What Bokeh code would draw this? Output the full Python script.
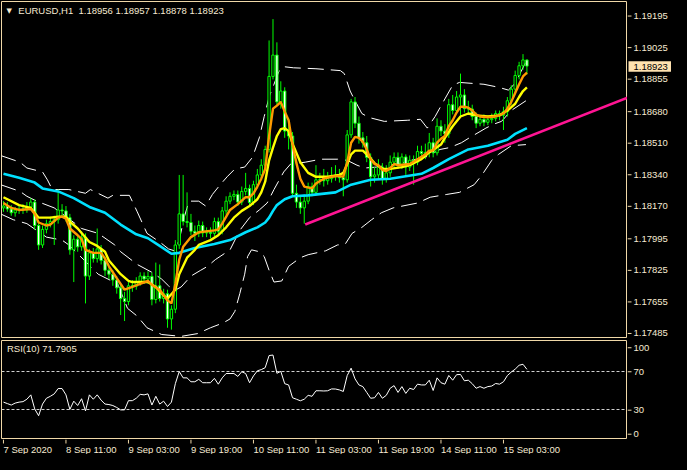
from bokeh.plotting import figure
from bokeh.layouts import column, row
from bokeh.models import Range1d, Label
from bokeh.embed import file_html
from bokeh.resources import INLINE
from bokeh.core.properties import value

# ---------------- data (EURUSD H1) ----------------
open_ = [1.18166, 1.18176, 1.18160, 1.18140, 1.18155, 1.18160, 1.18155, 1.18171, 1.18197, 1.18072,
         1.17968, 1.18051, 1.18082, 1.18093, 1.18103, 1.18155, 1.18150, 1.18114, 1.17942, 1.17999,
         1.17958, 1.18010, 1.17802, 1.17926, 1.17895, 1.17947, 1.17885, 1.17833, 1.17812, 1.17781,
         1.17739, 1.17682, 1.17666, 1.17750, 1.17748, 1.17770, 1.17802, 1.17786, 1.17800, 1.17677,
         1.17750, 1.17682, 1.17708, 1.17573, 1.17625, 1.17968, 1.18134, 1.18093, 1.18088, 1.18041,
         1.18030, 1.18072, 1.18032, 1.18036, 1.18030, 1.18093, 1.18041, 1.18150, 1.18202, 1.18228,
         1.18238, 1.18197, 1.18254, 1.18270, 1.18195, 1.18290, 1.18342, 1.18394, 1.18478, 1.18868,
         1.18982, 1.18732, 1.18790, 1.18576, 1.18550, 1.18244, 1.18197, 1.18166, 1.18202, 1.18280,
         1.18249, 1.18316, 1.18318, 1.18311, 1.18322, 1.18337, 1.18342, 1.18327, 1.18316, 1.18556,
         1.18732, 1.18618, 1.18540, 1.18514, 1.18436, 1.18332, 1.18342, 1.18384, 1.18322, 1.18353,
         1.18410, 1.18436, 1.18394, 1.18438, 1.18384, 1.18420, 1.18410, 1.18467, 1.18457, 1.18462,
         1.18514, 1.18460, 1.18602, 1.18576, 1.18561, 1.18717, 1.18686, 1.18758, 1.18769, 1.18696,
         1.18694, 1.18654, 1.18618, 1.18639, 1.18623, 1.18637, 1.18644, 1.18670, 1.18660, 1.18680,
         1.18738, 1.18800, 1.18873, 1.18925, 1.18956]
high = [1.18202, 1.18197, 1.18181, 1.18171, 1.18181, 1.18186, 1.18197, 1.18218, 1.18212, 1.18093,
        1.18072, 1.18103, 1.18119, 1.18124, 1.18264, 1.18186, 1.18176, 1.18134, 1.18020, 1.18020,
        1.18041, 1.18030, 1.17947, 1.17952, 1.18056, 1.17968, 1.17906, 1.17854, 1.17833, 1.17802,
        1.17760, 1.17718, 1.17770, 1.17781, 1.17796, 1.17822, 1.17822, 1.17828, 1.17822, 1.17874,
        1.17864, 1.17734, 1.17729, 1.17646, 1.17994, 1.18342, 1.18342, 1.18249, 1.18134, 1.18072,
        1.18098, 1.18093, 1.18062, 1.18062, 1.18114, 1.18114, 1.18171, 1.18228, 1.18249, 1.18259,
        1.18259, 1.18280, 1.18353, 1.18290, 1.18311, 1.18374, 1.18426, 1.18498, 1.19060, 1.19174,
        1.19050, 1.18842, 1.18810, 1.18613, 1.18571, 1.18290, 1.18228, 1.18238, 1.18301, 1.18301,
        1.18394, 1.18353, 1.18374, 1.18358, 1.18384, 1.18394, 1.18374, 1.18358, 1.18582, 1.18748,
        1.18758, 1.18654, 1.18571, 1.18550, 1.18457, 1.18384, 1.18426, 1.18405, 1.18394, 1.18446,
        1.18462, 1.18462, 1.18457, 1.18452, 1.18446, 1.18446, 1.18498, 1.18498, 1.18509, 1.18566,
        1.18540, 1.18644, 1.18634, 1.18613, 1.18748, 1.18769, 1.18790, 1.18883, 1.18800, 1.18738,
        1.18717, 1.18675, 1.18660, 1.18665, 1.18660, 1.18670, 1.18686, 1.18686, 1.18706, 1.18758,
        1.18821, 1.18899, 1.18946, 1.18987, 1.18957]
low = [1.18145, 1.18145, 1.18124, 1.18119, 1.18134, 1.18134, 1.18140, 1.18155, 1.18051, 1.17942,
       1.17952, 1.18030, 1.18062, 1.17968, 1.18082, 1.18124, 1.18093, 1.17916, 1.17770, 1.17932,
       1.17937, 1.17656, 1.17781, 1.17874, 1.17874, 1.17864, 1.17802, 1.17786, 1.17750, 1.17708,
       1.17594, 1.17562, 1.17646, 1.17718, 1.17729, 1.17750, 1.17760, 1.17760, 1.17646, 1.17656,
       1.17666, 1.17656, 1.17526, 1.17516, 1.17604, 1.17947, 1.18072, 1.18062, 1.18020, 1.17989,
       1.18010, 1.18010, 1.18010, 1.18004, 1.18015, 1.18020, 1.18025, 1.18129, 1.18186, 1.18207,
       1.18176, 1.18181, 1.18233, 1.18176, 1.18181, 1.18270, 1.18322, 1.18374, 1.18462, 1.18852,
       1.18717, 1.18696, 1.18540, 1.18478, 1.18228, 1.18166, 1.18134, 1.18082, 1.18186, 1.18228,
       1.18233, 1.18290, 1.18280, 1.18290, 1.18301, 1.18311, 1.18301, 1.18228, 1.18301, 1.18540,
       1.18592, 1.18509, 1.18488, 1.18410, 1.18280, 1.18301, 1.18322, 1.18290, 1.18301, 1.18332,
       1.18384, 1.18374, 1.18374, 1.18342, 1.18363, 1.18290, 1.18394, 1.18436, 1.18426, 1.18436,
       1.18436, 1.18446, 1.18550, 1.18514, 1.18540, 1.18665, 1.18665, 1.18654, 1.18675, 1.18665,
       1.18634, 1.18592, 1.18602, 1.18602, 1.18608, 1.18618, 1.18628, 1.18634, 1.18582, 1.18654,
       1.18717, 1.18779, 1.18852, 1.18904, 1.18878]
close = [1.18176, 1.18160, 1.18140, 1.18155, 1.18160, 1.18155, 1.18171, 1.18197, 1.18072, 1.17968,
         1.18051, 1.18082, 1.18093, 1.18103, 1.18155, 1.18150, 1.18114, 1.17942, 1.17999, 1.17958,
         1.18010, 1.17802, 1.17926, 1.17895, 1.17947, 1.17885, 1.17833, 1.17812, 1.17781, 1.17739,
         1.17682, 1.17666, 1.17750, 1.17748, 1.17770, 1.17802, 1.17786, 1.17800, 1.17677, 1.17750,
         1.17682, 1.17708, 1.17573, 1.17625, 1.17968, 1.18134, 1.18093, 1.18088, 1.18041, 1.18030,
         1.18072, 1.18032, 1.18036, 1.18030, 1.18093, 1.18041, 1.18150, 1.18202, 1.18228, 1.18238,
         1.18197, 1.18254, 1.18270, 1.18195, 1.18290, 1.18342, 1.18394, 1.18478, 1.18868, 1.18982,
         1.18732, 1.18790, 1.18576, 1.18550, 1.18244, 1.18197, 1.18166, 1.18202, 1.18280, 1.18249,
         1.18316, 1.18318, 1.18311, 1.18322, 1.18337, 1.18342, 1.18327, 1.18316, 1.18556, 1.18732,
         1.18618, 1.18540, 1.18514, 1.18436, 1.18332, 1.18342, 1.18384, 1.18322, 1.18353, 1.18410,
         1.18436, 1.18394, 1.18438, 1.18384, 1.18420, 1.18410, 1.18467, 1.18457, 1.18462, 1.18514,
         1.18460, 1.18602, 1.18576, 1.18561, 1.18717, 1.18686, 1.18758, 1.18769, 1.18696, 1.18694,
         1.18654, 1.18618, 1.18639, 1.18623, 1.18637, 1.18644, 1.18670, 1.18660, 1.18680, 1.18738,
         1.18800, 1.18873, 1.18925, 1.18956, 1.18923]

# fast MA (orange)
ma_fast_bar = [0, 2, 4, 7, 8, 9, 11, 12, 14, 15, 16, 17, 19, 20, 21, 23, 25, 26, 27, 29, 31, 33, 37, 38, 40,
               42, 43, 44, 45, 46, 48, 50, 54, 55, 56, 58, 60, 62, 63, 64, 65, 66, 67, 68, 69, 70, 71, 72,
               73, 74, 75, 76, 77, 79, 80, 82, 84, 86, 87, 88, 89, 90, 91, 92, 93, 94, 95, 96, 97, 98, 99,
               100, 101, 104, 106, 108, 109, 110, 111, 112, 113, 114, 115, 116, 117, 118, 119, 120, 121,
               122, 124, 126, 128, 129, 130, 131, 132, 133, 134]
ma_fast = [1.18192, 1.18166, 1.18155, 1.18160, 1.18134, 1.18088, 1.18072, 1.18077, 1.18114, 1.18119,
           1.18108, 1.18056, 1.18020, 1.17999, 1.17942, 1.17926, 1.17926, 1.17895, 1.17854, 1.17791,
           1.17729, 1.17744, 1.17776, 1.17755, 1.17729, 1.17672, 1.17656, 1.17760, 1.17890, 1.17958,
           1.18010, 1.18036, 1.18046, 1.18051, 1.18082, 1.18155, 1.18186, 1.18223, 1.18223, 1.18244,
           1.18280, 1.18322, 1.18374, 1.18550, 1.18696, 1.18712, 1.18732, 1.18680, 1.18634, 1.18504,
           1.18405, 1.18322, 1.18280, 1.18270, 1.18296, 1.18322, 1.18332, 1.18337, 1.18332, 1.18410,
           1.18514, 1.18545, 1.18540, 1.18519, 1.18478, 1.18426, 1.18400, 1.18394, 1.18368, 1.18363,
           1.18379, 1.18400, 1.18394, 1.18400, 1.18426, 1.18452, 1.18472, 1.18472, 1.18514, 1.18535,
           1.18550, 1.18602, 1.18634, 1.18675, 1.18706, 1.18706, 1.18701, 1.18686, 1.18665, 1.18654,
           1.18649, 1.18654, 1.18670, 1.18696, 1.18732, 1.18779, 1.18826, 1.18868, 1.18888]

# medium MA (yellow)
ma_mid_bar = [0, 4, 7, 9, 12, 14, 16, 17, 19, 22, 24, 26, 27, 30, 32, 33, 37, 39, 41, 42, 44, 45, 47, 49,
              50, 53, 55, 57, 59, 61, 63, 65, 66, 67, 68, 69, 70, 71, 72, 73, 74, 76, 78, 80, 83, 86, 87,
              88, 89, 90, 92, 93, 95, 97, 99, 102, 104, 107, 109, 112, 113, 115, 117, 119, 121, 124, 127,
              129, 131, 132, 133, 134]
ma_mid = [1.18223, 1.18181, 1.18166, 1.18114, 1.18114, 1.18119, 1.18119, 1.18093, 1.18056, 1.17984,
          1.17963, 1.17932, 1.17885, 1.17812, 1.17776, 1.17770, 1.17770, 1.17744, 1.17698, 1.17682,
          1.17729, 1.17812, 1.17900, 1.17942, 1.17968, 1.17994, 1.18020, 1.18062, 1.18114, 1.18150,
          1.18176, 1.18212, 1.18249, 1.18306, 1.18420, 1.18488, 1.18550, 1.18587, 1.18592, 1.18576,
          1.18509, 1.18410, 1.18353, 1.18332, 1.18332, 1.18342, 1.18353, 1.18400, 1.18452, 1.18472,
          1.18472, 1.18452, 1.18405, 1.18374, 1.18374, 1.18384, 1.18394, 1.18426, 1.18462, 1.18504,
          1.18540, 1.18602, 1.18654, 1.18670, 1.18660, 1.18654, 1.18660, 1.18686, 1.18722, 1.18758,
          1.18790, 1.18810]

# slow MA (cyan)
ma_slow_bar = [0, 4, 8, 10, 14, 18, 22, 26, 30, 34, 37, 40, 43, 45, 49, 54, 58, 62, 65, 67, 68, 69, 70,
               72, 74, 78, 85, 89, 94, 99, 107, 110, 114, 119, 124, 129, 131, 134]
ma_slow = [1.18348, 1.18327, 1.18301, 1.18270, 1.18254, 1.18218, 1.18171, 1.18140, 1.18077, 1.18025,
           1.18004, 1.17963, 1.17921, 1.17926, 1.17952, 1.17973, 1.17994, 1.18036, 1.18062, 1.18088,
           1.18114, 1.18150, 1.18181, 1.18212, 1.18228, 1.18233, 1.18249, 1.18290, 1.18316, 1.18322,
           1.18348, 1.18379, 1.18426, 1.18478, 1.18498, 1.18530, 1.18561, 1.18592]

# Bollinger bands (white dashed)
bb_up_bar = [-0.75, 4.25, 6, 10, 11.25, 12.5, 16.75, 21, 22.25, 26.75, 28, 32.25, 34.25, 36.75, 40, 42.25,
             43.75, 45, 46.25, 47.5, 50, 51.75, 53.5, 55.5, 57.25, 59.25, 61.75, 63.75, 65.5, 66.75, 68,
             69.25, 70.5, 71.75, 74.25, 80, 86.25, 87.25, 88.75, 89.75, 91.75, 93.5, 97.5, 103.5, 106.75,
             108.5, 110.5, 113, 115, 116.75, 123, 126.75, 129.25, 131, 132.5, 133.75]
bb_up = [1.18446, 1.18410, 1.18379, 1.18358, 1.18316, 1.18264, 1.18264, 1.18244, 1.18264, 1.18218,
         1.18233, 1.18233, 1.18145, 1.18030, 1.17984, 1.17947, 1.17937, 1.17994, 1.18114, 1.18202,
         1.18202, 1.18176, 1.18238, 1.18290, 1.18332, 1.18374, 1.18384, 1.18436, 1.18540, 1.18654,
         1.18758, 1.18826, 1.18894, 1.18920, 1.18914, 1.18909, 1.18899, 1.18883, 1.18790, 1.18748,
         1.18670, 1.18649, 1.18628, 1.18634, 1.18639, 1.18592, 1.18654, 1.18748, 1.18821, 1.18836,
         1.18826, 1.18810, 1.18795, 1.18831, 1.18894, 1.18946]
bb_mid_bar = [-0.75, 4.25, 6, 8.5, 13, 16.75, 20, 24.25, 28.5, 30, 34.25, 38, 40.5, 42.25, 43.75, 45.5, 48,
              50.5, 52.25, 54.25, 58, 60.5, 63, 65.5, 67.5, 69.25, 71.75, 73.5, 77.25, 81.25, 85.5, 88,
              90.5, 92.5, 95.5, 98.5, 101.75, 104.25, 108, 111.75, 114.25, 117.25, 119.25, 123.5, 125.5,
              127.5, 130, 133.75]
bb_mid = [1.18290, 1.18254, 1.18228, 1.18202, 1.18166, 1.18108, 1.18056, 1.18030, 1.17968, 1.17932,
          1.17864, 1.17822, 1.17786, 1.17750, 1.17724, 1.17744, 1.17802, 1.17833, 1.17854, 1.17890,
          1.17942, 1.18046, 1.18114, 1.18155, 1.18192, 1.18264, 1.18358, 1.18400, 1.18410, 1.18426,
          1.18426, 1.18420, 1.18394, 1.18379, 1.18384, 1.18394, 1.18405, 1.18420, 1.18436, 1.18478,
          1.18488, 1.18514, 1.18540, 1.18592, 1.18613, 1.18628, 1.18686, 1.18738]
bb_lo_bar = [-0.75, 2.5, 6, 11, 15, 16.75, 21, 24.25, 29.25, 31.75, 34.25, 36.75, 40.5, 45.5, 49.75, 53,
             56.25, 58, 59.25, 60.5, 61.75, 62.5, 63.5, 65.5, 66.75, 68, 69.25, 71.25, 73, 76, 78, 82.5,
             85.5, 87.5, 89.25, 91.75, 94.25, 96.75, 99.75, 106, 109.25, 113.5, 116.75, 120.5, 122.5, 125,
             126.75, 130, 133.75]
bb_lo = [1.18134, 1.18103, 1.18082, 1.18010, 1.17994, 1.17968, 1.17880, 1.17812, 1.17760, 1.17630,
         1.17588, 1.17526, 1.17490, 1.17480, 1.17495, 1.17526, 1.17552, 1.17573, 1.17614, 1.17708,
         1.17812, 1.17906, 1.17942, 1.17932, 1.17906, 1.17833, 1.17770, 1.17776, 1.17854, 1.17900,
         1.17916, 1.17937, 1.17968, 1.17973, 1.18030, 1.18062, 1.18103, 1.18140, 1.18166, 1.18192,
         1.18223, 1.18238, 1.18249, 1.18290, 1.18342, 1.18420, 1.18452, 1.18498, 1.18504]

# trend line anchors (bar, price)
trend_bar = [77.25, 159.75]
trend_price = [1.18077, 1.18755]

# RSI(10)
rsi = [38, 36.5, 35, 37, 38, 38.5, 41, 45.5, 31, 24,
       36, 42, 44, 46.5, 52, 52, 45.5, 30.5, 39, 34.5,
       41.5, 29, 45.5, 41, 45.5, 40, 36, 35.5, 34.5, 32.5,
       30, 30, 39.5, 39.5, 42, 46, 45.5, 46.5, 35, 44,
       36, 39, 33.5, 38, 57, 69.5, 63, 63, 59, 59,
       61.5, 58, 58, 58, 62.5, 56.5, 63, 67.5, 67.5, 67.5,
       64.5, 69.3, 67.5, 58, 65, 70.3, 71.5, 73.5, 86, 86.5,
       67.7, 69.7, 57, 55.7, 42.5, 41, 39.4, 41, 45, 44,
       49.7, 49.7, 49.5, 49.7, 51.6, 51.5, 50.6, 49, 65.4, 73,
       62, 55.7, 54, 48, 42, 42.5, 48, 42, 45, 52.3,
       55, 48, 54, 47, 52.3, 51, 56.5, 55.7, 55.7, 60.6,
       50, 63, 58, 56.5, 65.5, 60.6, 66.3, 66.5, 60, 60.6,
       57, 52.3, 54, 52.3, 54, 54.6, 57.2, 56.5, 59, 65.4,
       69, 72, 76, 77, 71.7905]
rsi_levels = [30, 70]
rsi_scale_pos = [5, 30, 70, 95]
rsi_scale_labels = ["0", "30", "70", "100"]

price_ticks = [1.17485, 1.17655, 1.17825, 1.17995, 1.18170, 1.18340, 1.18510, 1.18680, 1.18855, 1.19025, 1.19195]
time_tick_bars = [0, 16, 32, 48, 64, 80, 96, 112, 128]
time_tick_labels = ["7 Sep 2020", "8 Sep 11:00", "9 Sep 03:00", "9 Sep 19:00", "10 Sep 11:00",
                    "11 Sep 03:00", "11 Sep 19:00", "14 Sep 11:00", "15 Sep 03:00"]
header_text = "EURUSD,H1\u00a0 1.18956 1.18957 1.18878 1.18923"
last_price = 1.18923

# ---------------- style / geometry ----------------
FONT = "Liberation Sans"
BG = "#000000"
FRAME = "#f0d8a8"
TXT = "#f6ead2"
FS = "9.5px"
CANDLE = "#00ff00"

FW, MH, RH, SW, DH = 626, 336, 99, 44, 15     # frame width, main h, rsi h, scale width, date strip h
X0, X1 = -0.5, 159.75
Y0, Y1 = 1.17474, 1.19268
R0, R1 = -0.5, 101.5

bars = list(range(len(close)))
up_idx = [i for i in bars if close[i] > open_[i]]
dn_idx = [i for i in bars if close[i] <= open_[i]]

x_rng = Range1d(X0, X1)


def base_fig(w, h, xr, yr, left=0, top=0, bottom=0, outline=None):
    f = figure(width=w, height=h, x_range=xr, y_range=yr, output_backend="svg", toolbar_location=None,
               x_axis_location=None, y_axis_location=None, min_border_left=left, min_border_right=0,
               min_border_top=top, min_border_bottom=bottom, background_fill_color=BG,
               border_fill_color=BG, outline_line_color=outline)
    f.grid.visible = False
    return f


# ---------------- main price panel ----------------
main = base_fig(FW + 1, MH + 3, x_rng, Range1d(Y0, Y1), left=1, top=1, bottom=2, outline=FRAME)

for bx, by in ((bb_up_bar, bb_up), (bb_mid_bar, bb_mid), (bb_lo_bar, bb_lo)):
    main.line(bx, by, line_color="#ffffff", line_width=1, line_dash="16 7")

main.segment(x0=bars, y0=low, x1=bars, y1=high, line_color=CANDLE, line_width=1)
main.vbar(x=up_idx, width=0.6, top=[close[i] for i in up_idx], bottom=[open_[i] for i in up_idx],
          fill_color="#000000", line_color=CANDLE, line_width=1)
main.vbar(x=dn_idx, width=0.6, top=[open_[i] for i in dn_idx], bottom=[close[i] for i in dn_idx],
          fill_color="#ffffff", line_color=CANDLE, line_width=1)

main.line(ma_slow_bar, ma_slow, line_color="#00e1ff", line_width=2.6)
main.line(ma_mid_bar, ma_mid, line_color="#ffff00", line_width=2.4)
main.line(ma_fast_bar, ma_fast, line_color="#ff9a00", line_width=2.4)
main.line(trend_bar, trend_price, line_color="#ff1493", line_width=2.6)

kp = (Y1 - Y0) / MH
main.add_layout(Label(x=1.5, y=Y1 - 9 * kp, text="\u25bc", text_font="DejaVu Sans", text_font_size="7px",
                      text_color=TXT, text_align="center", text_baseline="middle"))
main.add_layout(Label(x=3.8, y=Y1 - 9.3 * kp, text=header_text, text_font=FONT, text_font_size=FS,
                      text_color=TXT, text_align="left", text_baseline="middle"))

# ---------------- price scale (right) ----------------
pscale = base_fig(SW, MH + 3, Range1d(0, SW), Range1d(Y0 - 2 * kp, Y1 + 1 * kp))
pscale.segment(x0=0, x1=4, y0=price_ticks, y1=price_ticks, line_color=FRAME, line_width=1)
pscale.text(x=6, y=price_ticks, text=["%.5f" % t for t in price_ticks], text_font=value(FONT),
            text_font_size=FS, text_color=TXT, text_align="left", text_baseline="middle")
pscale.quad(left=1, right=SW, bottom=last_price - 5.3 * kp, top=last_price + 5.3 * kp,
            fill_color="#ffe2b0", line_color=None)
pscale.text(x=6, y=[last_price], text=["%.5f" % last_price], text_font=value(FONT), text_font_size=FS,
            text_color="#000000", text_align="left", text_baseline="middle")

# ---------------- RSI panel ----------------
rp = base_fig(FW + 1, RH + 1, x_rng, Range1d(R0, R1), left=1, top=1, bottom=0, outline=FRAME)
rp.hspan(y=rsi_levels, line_color="#d0d0d0", line_width=1, line_dash="3 2")
rp.line(bars, rsi, line_color="#ffffff", line_width=1)
kr = (R1 - R0) / RH
rp.add_layout(Label(x=0.9, y=R1 - 8 * kr, text="RSI(10) 71.7905", text_font=FONT, text_font_size=FS,
                    text_color=TXT, text_align="left", text_baseline="middle"))

rscale = base_fig(SW, RH + 1, Range1d(0, SW), Range1d(R0, R1 + kr))
rscale.segment(x0=0, x1=4, y0=rsi_scale_pos, y1=rsi_scale_pos, line_color=FRAME, line_width=1)
rscale.text(x=6, y=rsi_scale_pos, text=rsi_scale_labels, text_font=value(FONT), text_font_size=FS,
            text_color=TXT, text_align="left", text_baseline="middle")

# ---------------- time scale (bottom) ----------------
tw = FW + SW
dates = base_fig(tw + 1, DH, Range1d(X0, X0 + (X1 - X0) * tw / FW), Range1d(0, DH), left=1)
dates.segment(x0=time_tick_bars, x1=time_tick_bars, y0=DH, y1=DH - 4, line_color=FRAME, line_width=1)
dates.text(x=time_tick_bars, y=DH - 9.5, text=time_tick_labels, text_font=value(FONT), text_font_size=FS,
           text_color=TXT, text_align="left", text_baseline="middle")

layout = column(row(main, pscale, spacing=0), row(rp, rscale, spacing=0), dates, spacing=0)

TEMPLATE = """
{% block preamble %}<style>html, body { background: #000000; }</style>{% endblock %}
"""
open("out.html", "w").write(file_html(layout, INLINE, title="EURUSD,H1", template=TEMPLATE))
